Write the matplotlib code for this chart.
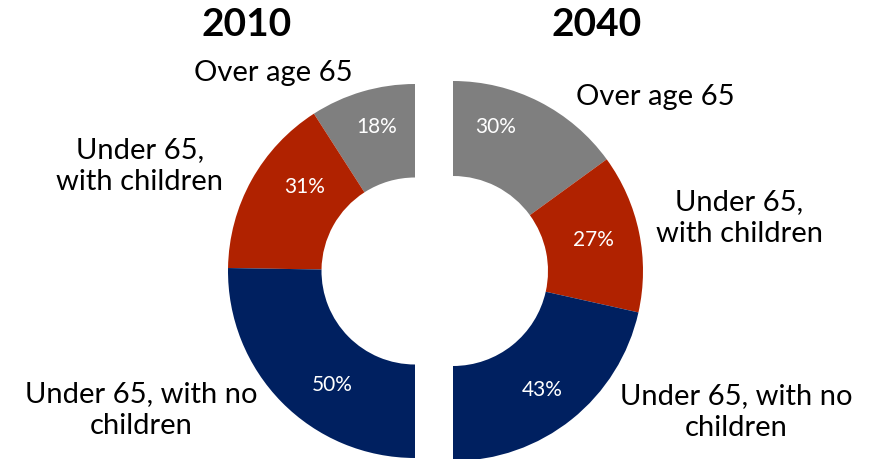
import matplotlib
matplotlib.use("Agg")
import matplotlib.pyplot as plt

# ---- data ----
years = ["2010", "2040"]
categories = ["Over age 65", "Under 65, with children", "Under 65, with no children"]
shares_2010 = [18, 31, 50]
shares_2040 = [30, 27, 43]
colors = ["#7f7f7f", "#b02200", "#002060"]

# ---- layout (pixel coordinates, y measured from top) ----
W, H = 875, 459
centers = [(415, 271), (453, 271)]
radii = [187, 190]
title_pos = [(247, 25), (597, 25)]
cat_label_pos = [
    [(273, 73), (140, 166), (141, 410)],
    [(655, 97), (739, 218), (736, 412)],
]
cat_label_text = [
    ["Over age 65", "Under 65,\nwith children", "Under 65, with no\nchildren"],
    ["Over age 65", "Under 65,\nwith children", "Under 65, with no\nchildren"],
]
pct_pos = [
    [(377, 127), (305, 187), (332, 385)],
    [(496, 127), (593, 240), (542, 390)],
]

FONT = "Lato"

fig = plt.figure(figsize=(W / 100, H / 100), dpi=100)
ax = fig.add_axes([0, 0, 1, 1])

for i, shares in enumerate([shares_2010, shares_2040]):
    cx, cy = centers[i]
    r = radii[i]
    vals = shares + [sum(shares)]  # hidden half
    cols = colors + ["none"]
    ax.pie(vals, colors=cols, startangle=90, counterclock=(i == 0),
           center=(cx, H - cy), radius=r,
           wedgeprops=dict(width=r * 0.5, linewidth=0, edgecolor="none"))
    tx, ty = title_pos[i]
    ax.text(tx, H - ty, years[i], ha="center", va="center", fontsize=28,
            fontweight="bold", family=FONT, color="black")
    for j in range(len(shares)):
        lx, ly = cat_label_pos[i][j]
        ax.text(lx, H - ly, cat_label_text[i][j], ha="center", va="center",
                fontsize=21, family=FONT, color="black", linespacing=1.32)
        px, py = pct_pos[i][j]
        ax.text(px, H - py, f"{shares[j]}%", ha="center", va="center",
                fontsize=15, family=FONT, color="white")

ax.set_xlim(0, W)
ax.set_ylim(0, H)
ax.set_aspect("auto")
ax.axis("off")

fig.savefig("out.png", dpi=100, facecolor="white")
